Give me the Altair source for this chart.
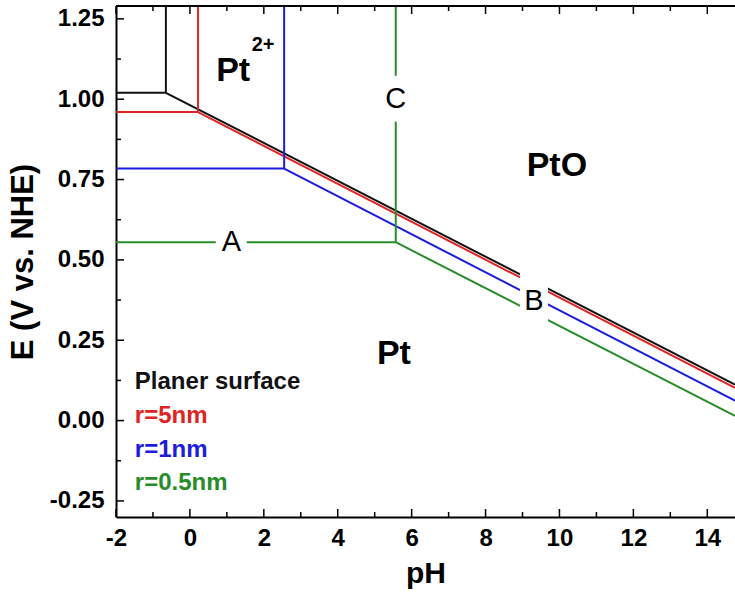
import altair as alt
import pandas as pd

# ---- data ----
series = ["Planer surface", "r=5nm", "r=1nm", "r=0.5nm"]
colors = ["#111111", "#e02424", "#1c1cdc", "#288c28"]
plateau_E = [1.02, 0.96, 0.784, 0.555]      # horizontal Pt/Pt2+ boundary (V)
corner_pH = [-0.65, 0.22, 2.55, 5.57]       # vertical Pt2+/PtO boundary (pH)
edge_E = [0.112, 0.102, 0.062, 0.015]       # Pt/PtO boundary at right edge

X_MIN, X_MAX = -2.0, 14.75
Y_MIN, Y_MAX = -0.30, 1.29

x_major = [-2, 0, 2, 4, 6, 8, 10, 12, 14]
x_minor = [-1, 1, 3, 5, 7, 9, 11, 13]
y_major = [-0.25, 0.0, 0.25, 0.5, 0.75, 1.0, 1.25]
y_minor = [-0.125, 0.125, 0.375, 0.625, 0.875, 1.125]

# letter labels on the lines (with white gap behind them)
let_text = ["A", "B", "C"]
let_pH = [1.12, 9.31, 5.57]
let_E = [0.555, 0.372, 1.002]
gap_pH0 = [0.70, 8.93, 5.40]
gap_pH1 = [1.54, 9.69, 5.74]
gap_E0 = [0.52, 0.29, 0.93]
gap_E1 = [0.59, 0.47, 1.073]

# phase region labels
reg_text = ["Pt", "PtO", "Pt"]
reg_pH = [1.17, 9.93, 5.52]
reg_E = [1.087, 0.793, 0.207]
sup_text = ["2+"]
sup_pH = [1.98]
sup_E = [1.168]

# legend text rows
leg_pH = [-1.49, -1.49, -1.49, -1.49]
leg_E = [0.119, 0.013, -0.090, -0.193]

# ---- build tables ----
rows = []
for i, s in enumerate(series):
    c, p, e = corner_pH[i], plateau_E[i], edge_E[i]
    segs = {
        "h": [(X_MIN, p), (c, p)],
        "v": [(c, p), (c, Y_MAX)],
        "s": [(c, p), (X_MAX, e)],
    }
    for k, pts in segs.items():
        for j, (x, y) in enumerate(pts):
            rows.append({"series": s, "seg": s + k, "ord": j, "pH": x, "E": y})
lines = pd.DataFrame(rows)

gaps = pd.DataFrame({"x0": gap_pH0, "x1": gap_pH1, "y0": gap_E0, "y1": gap_E1})
letters = pd.DataFrame({"t": let_text, "pH": let_pH, "E": let_E})
regions = pd.DataFrame({"t": reg_text, "pH": reg_pH, "E": reg_E})
sups = pd.DataFrame({"t": sup_text, "pH": sup_pH, "E": sup_E})
legend = pd.DataFrame({"t": series, "pH": leg_pH, "E": leg_E})

W, H = 619, 511
FONT = "Liberation Sans"
FIX_MINUS = "replace(datum.label, '\u2212', '-')"

xs = alt.Scale(domain=[X_MIN, X_MAX], nice=False, zero=False)
ys = alt.Scale(domain=[Y_MIN, Y_MAX], nice=False, zero=False)
cs = alt.Scale(domain=series, range=colors)

x_axis = alt.Axis(values=x_major, ticks=False, grid=False, domain=True,
                  domainColor="black", domainWidth=2, labelFontSize=24,
                  labelFontWeight="bold", labelFont=FONT, labelColor="black",
                  labelPadding=9, labelExpr=FIX_MINUS,
                  title="pH", titleFontSize=30,
                  titleFontWeight="bold", titleFont=FONT, titleColor="black",
                  titlePadding=8, labelFlush=False)
y_axis = alt.Axis(values=y_major, format=".2f", ticks=False, grid=False,
                  domain=True, domainColor="black", domainWidth=2,
                  labelFontSize=24, labelFontWeight="bold", labelFont=FONT,
                  labelColor="black", labelPadding=12, labelExpr=FIX_MINUS,
                  title="E (V vs. NHE)", titleFontSize=31,
                  titleFontWeight="bold", titleFont=FONT, titleColor="black",
                  titlePadding=10, labelFlush=False)

base_lines = alt.Chart(lines).mark_line(strokeWidth=2, clip=True).encode(
    x=alt.X("pH:Q", scale=xs, axis=x_axis),
    y=alt.Y("E:Q", scale=ys, axis=y_axis),
    color=alt.Color("series:N", scale=cs, legend=None),
    detail="seg:N",
    order="ord:Q",
)

gap_rects = alt.Chart(gaps).mark_rect(color="white").encode(
    x=alt.X("x0:Q", scale=xs), x2="x1:Q",
    y=alt.Y("y0:Q", scale=ys), y2="y1:Q",
)

letter_txt = alt.Chart(letters).mark_text(
    font=FONT, fontSize=29, color="black", baseline="middle", align="center"
).encode(x=alt.X("pH:Q", scale=xs), y=alt.Y("E:Q", scale=ys), text="t:N")

region_txt = alt.Chart(regions).mark_text(
    font=FONT, fontSize=34, fontWeight="bold", color="black",
    baseline="middle", align="center"
).encode(x=alt.X("pH:Q", scale=xs), y=alt.Y("E:Q", scale=ys), text="t:N")

sup_txt = alt.Chart(sups).mark_text(
    font=FONT, fontSize=20, fontWeight="bold", color="black",
    baseline="middle", align="center"
).encode(x=alt.X("pH:Q", scale=xs), y=alt.Y("E:Q", scale=ys), text="t:N")

legend_txt = alt.Chart(legend).mark_text(
    font=FONT, fontSize=24, fontWeight="bold", baseline="middle", align="left"
).encode(x=alt.X("pH:Q", scale=xs), y=alt.Y("E:Q", scale=ys), text="t:N",
         color=alt.Color("t:N", scale=cs, legend=None))

# inward ticks
def xticks(vals, length, top):
    df = pd.DataFrame({"v": vals})
    if top:
        return alt.Chart(df).mark_rule(color="black", strokeWidth=1.5).encode(
            x=alt.X("v:Q", scale=xs), y=alt.value(0), y2=alt.value(length))
    return alt.Chart(df).mark_rule(color="black", strokeWidth=1.5).encode(
        x=alt.X("v:Q", scale=xs), y=alt.value(H), y2=alt.value(H - length))

def yticks(vals, length):
    df = pd.DataFrame({"v": vals})
    return alt.Chart(df).mark_rule(color="black", strokeWidth=1.5).encode(
        y=alt.Y("v:Q", scale=ys), x=alt.value(0), x2=alt.value(length))

top_border = alt.Chart(pd.DataFrame({"v": [0]})).mark_rule(
    color="black", strokeWidth=2).encode(
    y=alt.value(0), x=alt.value(0), x2=alt.value(W))

chart = alt.layer(
    base_lines, gap_rects, letter_txt, region_txt, sup_txt, legend_txt,
    xticks(x_major, 8, False), xticks(x_minor, 5, False),
    xticks(x_major, 8, True), xticks(x_minor, 5, True),
    yticks(y_major, 8), yticks(y_minor, 5),
    top_border,
).properties(
    width=W, height=H,
    autosize=alt.AutoSizeParams(type="none"),
    padding={"left": 116, "top": 6, "right": 0, "bottom": 80},
    background="white",
).configure_view(strokeWidth=0)

chart.save("out.html", embed_options={"renderer": "svg", "actions": False})
